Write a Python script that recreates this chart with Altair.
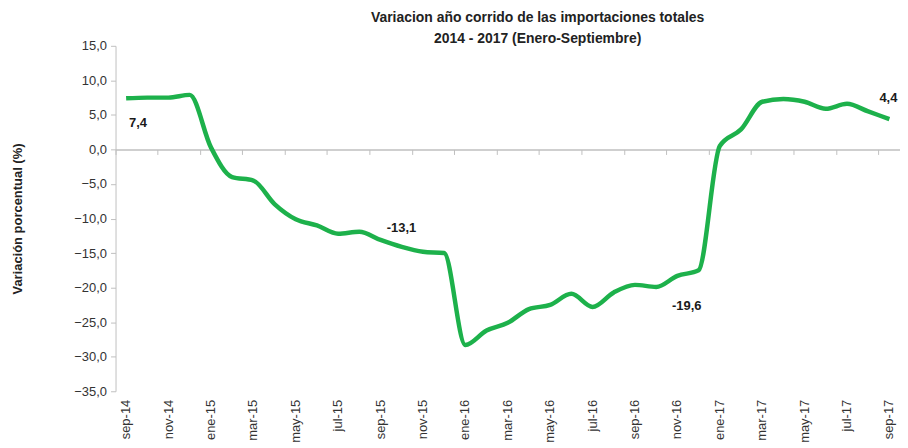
import altair as alt
import pandas as pd

meses = ["sep-14", "oct-14", "nov-14", "dic-14",
         "ene-15", "feb-15", "mar-15", "abr-15", "may-15", "jun-15",
         "jul-15", "ago-15", "sep-15", "oct-15", "nov-15", "dic-15",
         "ene-16", "feb-16", "mar-16", "abr-16", "may-16", "jun-16",
         "jul-16", "ago-16", "sep-16", "oct-16", "nov-16", "dic-16",
         "ene-17", "feb-17", "mar-17", "abr-17", "may-17", "jun-17",
         "jul-17", "ago-17", "sep-17"]
valores = [7.4, 7.5, 7.5, 7.9,
           0.3, -4.0, -4.5, -7.9, -10.1, -11.0,
           -12.2, -11.9, -13.1, -14.1, -14.8, -15.0,
           -28.3, -26.2, -25.1, -23.1, -22.5, -20.9,
           -22.8, -20.7, -19.6, -19.9, -18.3, -17.5,
           0.5, 2.9, 6.9, 7.3, 6.9, 5.9,
           6.6, 5.5, 4.4]
meses_etiqueta = ["sep-14", "sep-15", "sep-16", "sep-17"]
meses_eje = meses[::2]
y_ticks = [-35, -30, -25, -20, -15, -10, -5, 0, 5, 10, 15]

titulo = ["Variacion año corrido de las importaciones totales",
          "2014 - 2017 (Enero-Septiembre)"]
titulo_y = "Variación porcentual (%)"

df = pd.DataFrame({"mes": meses, "valor": valores})
df["texto"] = [f"{v:.1f}".replace(".", ",") for v in valores]

W, H = 788, 347
Y_MIN, Y_MAX = -35, 15
FONT = "Liberation Sans, Arial, sans-serif"
GRIS = "#BFBFBF"
VERDE = "#1DB14B"

x_scale = alt.Scale(type="band", paddingInner=0, paddingOuter=0)
y_scale = alt.Scale(domain=[Y_MIN, Y_MAX], nice=False, zero=False)

y_axis = alt.Axis(values=y_ticks,
                  labelExpr="replace(format(datum.value, '.1f'), '.', ',')",
                  title=titulo_y, grid=False,
                  domainColor=GRIS, tickColor=GRIS, tickSize=5,
                  labelFont=FONT, labelFontSize=13, labelColor="#333333",
                  labelPadding=4,
                  titleFont=FONT, titleFontSize=13, titleFontWeight="bold",
                  titleColor="#222222", titleX=-98, titleY=H / 2,
                  titleAngle=-90, titleAlign="center", titleBaseline="middle")

y_enc = alt.Y("valor:Q", scale=y_scale, axis=y_axis)

linea = alt.Chart(df).mark_line(
    color=VERDE, strokeWidth=4.5, interpolate="monotone"
).encode(
    x=alt.X("mes:O", sort=meses, scale=x_scale, bandPosition=0.5,
            axis=alt.Axis(values=meses_eje, title=None, orient="bottom",
                          labelAngle=-90, ticks=False, domain=False,
                          labelFont=FONT, labelFontSize=13,
                          labelColor="#333333", labelPadding=8,
                          bandPosition=0.5)),
    y=y_enc,
)

# zero line with tick marks (category axis crossing at 0)
offset_cero = -H * (0 - Y_MIN) / (Y_MAX - Y_MIN)
eje_cero = alt.Chart(df).mark_point(opacity=0).encode(
    x=alt.X("mes:O", sort=meses, scale=x_scale,
            axis=alt.Axis(values=meses_eje, title=None, orient="bottom",
                          labels=False, domainColor=GRIS, domainWidth=1.5,
                          tickColor=GRIS, tickSize=5, bandPosition=0,
                          offset=offset_cero)),
    y=alt.value(0),
)

desplaz = {"sep-14": (12, 25), "sep-15": (21, -12),
           "sep-16": (52, 21), "sep-17": (-1, -21)}
capas = [eje_cero, linea]
for m in meses_etiqueta:
    dx, dy = desplaz[m]
    capas.append(
        alt.Chart(df[df["mes"] == m]).mark_text(
            dx=dx, dy=dy, font=FONT, fontSize=13, fontWeight="bold",
            color="#1A1A1A"
        ).encode(
            x=alt.X("mes:O", sort=meses, scale=x_scale, bandPosition=0.5,
                    axis=None),
            y=y_enc,
            text="texto:N",
        )
    )

chart = alt.layer(*capas).resolve_axis(x="independent").properties(
    width=W, height=H,
    title=alt.TitleParams(text=titulo, font=FONT, fontSize=14,
                          fontWeight="bold", color="#222222",
                          anchor="middle", dx=30, offset=-6, lineHeight=21),
    autosize=alt.AutoSizeParams(type="none"),
    padding={"left": 108, "top": 37, "right": 0, "bottom": 55},
).configure_view(stroke=None)

chart.save("out.html", embed_options={"renderer": "svg", "actions": False})
